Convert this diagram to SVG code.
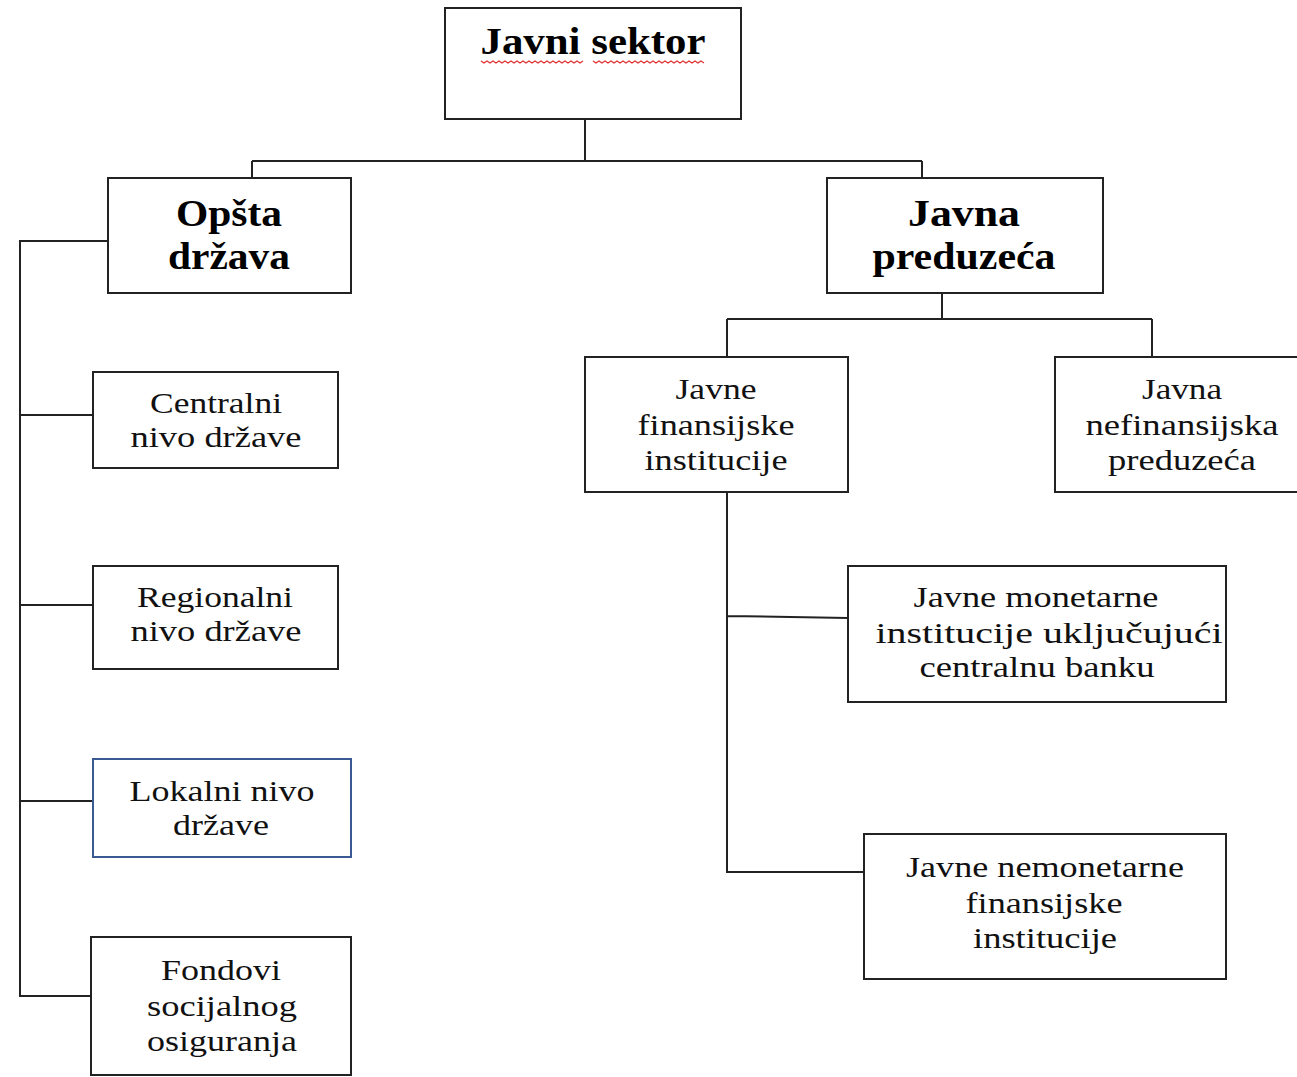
<svg xmlns="http://www.w3.org/2000/svg" width="1297" height="1077" viewBox="0 0 1297 1077">
<style>
.box{fill:#fff;stroke:#222;stroke-width:2}
.blue{fill:#fff;stroke:#3a5a94;stroke-width:2}
text{font-family:"Liberation Serif","Times New Roman",serif;text-anchor:middle}
.t{font-size:29px;fill:#111}
.b{font-size:38px;font-weight:bold;fill:#000}
.c{fill:none;stroke:#222;stroke-width:2}
.sq{fill:none;stroke:#e03030;stroke-width:1.2}
</style>
<rect width="1297" height="1077" fill="#fff"/>
<g id="connectors">
<path class="c" d="M585 119V161M252 161H922M252 161V178M922 161V178"/>
<path class="c" d="M108 241H20V996H91M20 415H93M20 605H93M20 801H93"/>
<path class="c" d="M942 293V319M727 319H1152M727 319V357M1152 319V357"/>
<path class="c" d="M727 492V872H864M727 616L848 618"/>
</g>
<g id="javni-sektor">
<rect class="box" x="445" y="8" width="296" height="111"/>
<text class="b" x="593" y="54" font-size="40" textLength="225" lengthAdjust="spacingAndGlyphs">Javni sektor</text>
<path class="sq" d="M481 61l3 2l3-2l3 2l3-2l3 2l3-2l3 2l3-2l3 2l3-2l3 2l3-2l3 2l3-2l3 2l3-2l3 2l3-2l3 2l3-2l3 2l3-2l3 2l3-2l3 2l3-2l3 2l3-2l3 2l3-2l3 2l3-2l3 2l3-2"/>
<path class="sq" d="M593 61l3 2l3-2l3 2l3-2l3 2l3-2l3 2l3-2l3 2l3-2l3 2l3-2l3 2l3-2l3 2l3-2l3 2l3-2l3 2l3-2l3 2l3-2l3 2l3-2l3 2l3-2l3 2l3-2l3 2l3-2l3 2l3-2l3 2l3-2l3 2l3-2l3 2"/>
</g>
<g id="opsta-drzava">
<rect class="box" x="108" y="178" width="243" height="115"/>
<text class="b" x="229" y="226" textLength="106" lengthAdjust="spacingAndGlyphs">Opšta</text>
<text class="b" x="229" y="269" textLength="122" lengthAdjust="spacingAndGlyphs">država</text>
</g>
<g id="javna-preduzeca">
<rect class="box" x="827" y="178" width="276" height="115"/>
<text class="b" x="964" y="226" textLength="112" lengthAdjust="spacingAndGlyphs">Javna</text>
<text class="b" x="964" y="269" textLength="183" lengthAdjust="spacingAndGlyphs">preduzeća</text>
</g>
<g id="centralni">
<rect class="box" x="93" y="372" width="245" height="96"/>
<text class="t" x="216" y="413" textLength="132" lengthAdjust="spacingAndGlyphs">Centralni</text>
<text class="t" x="216" y="447" textLength="171" lengthAdjust="spacingAndGlyphs">nivo države</text>
</g>
<g id="regionalni">
<rect class="box" x="93" y="566" width="245" height="103"/>
<text class="t" x="215" y="607" textLength="156" lengthAdjust="spacingAndGlyphs">Regionalni</text>
<text class="t" x="216" y="641" textLength="171" lengthAdjust="spacingAndGlyphs">nivo države</text>
</g>
<g id="lokalni">
<rect class="blue" x="93" y="759" width="258" height="98"/>
<text class="t" x="222" y="801" textLength="185" lengthAdjust="spacingAndGlyphs">Lokalni nivo</text>
<text class="t" x="221" y="835" textLength="96" lengthAdjust="spacingAndGlyphs">države</text>
</g>
<g id="fondovi">
<rect class="box" x="91" y="937" width="260" height="138"/>
<text class="t" x="221" y="980" textLength="120" lengthAdjust="spacingAndGlyphs">Fondovi</text>
<text class="t" x="222" y="1016" textLength="150" lengthAdjust="spacingAndGlyphs">socijalnog</text>
<text class="t" x="222" y="1051" textLength="150" lengthAdjust="spacingAndGlyphs">osiguranja</text>
</g>
<g id="javne-finansijske">
<rect class="box" x="585" y="357" width="263" height="135"/>
<text class="t" x="716" y="399" textLength="81" lengthAdjust="spacingAndGlyphs">Javne</text>
<text class="t" x="716" y="435" textLength="157" lengthAdjust="spacingAndGlyphs">finansijske</text>
<text class="t" x="716" y="470" textLength="143" lengthAdjust="spacingAndGlyphs">institucije</text>
</g>
<g id="javna-nefinansijska">
<rect class="box" x="1055" y="357" width="250" height="135"/>
<text class="t" x="1182" y="399" textLength="80" lengthAdjust="spacingAndGlyphs">Javna</text>
<text class="t" x="1182" y="435" textLength="193" lengthAdjust="spacingAndGlyphs">nefinansijska</text>
<text class="t" x="1182" y="470" textLength="148" lengthAdjust="spacingAndGlyphs">preduzeća</text>
</g>
<g id="javne-monetarne">
<rect class="box" x="848" y="566" width="378" height="136"/>
<text class="t" x="1036" y="607" textLength="245" lengthAdjust="spacingAndGlyphs">Javne monetarne</text>
<text class="t" x="1049" y="643" textLength="347" lengthAdjust="spacingAndGlyphs">institucije uključujući</text>
<text class="t" x="1037" y="677" textLength="235" lengthAdjust="spacingAndGlyphs">centralnu banku</text>
</g>
<g id="javne-nemonetarne">
<rect class="box" x="864" y="834" width="362" height="145"/>
<text class="t" x="1045" y="877" textLength="278" lengthAdjust="spacingAndGlyphs">Javne nemonetarne</text>
<text class="t" x="1044" y="913" textLength="157" lengthAdjust="spacingAndGlyphs">finansijske</text>
<text class="t" x="1045" y="948" textLength="144" lengthAdjust="spacingAndGlyphs">institucije</text>
</g>
</svg>
